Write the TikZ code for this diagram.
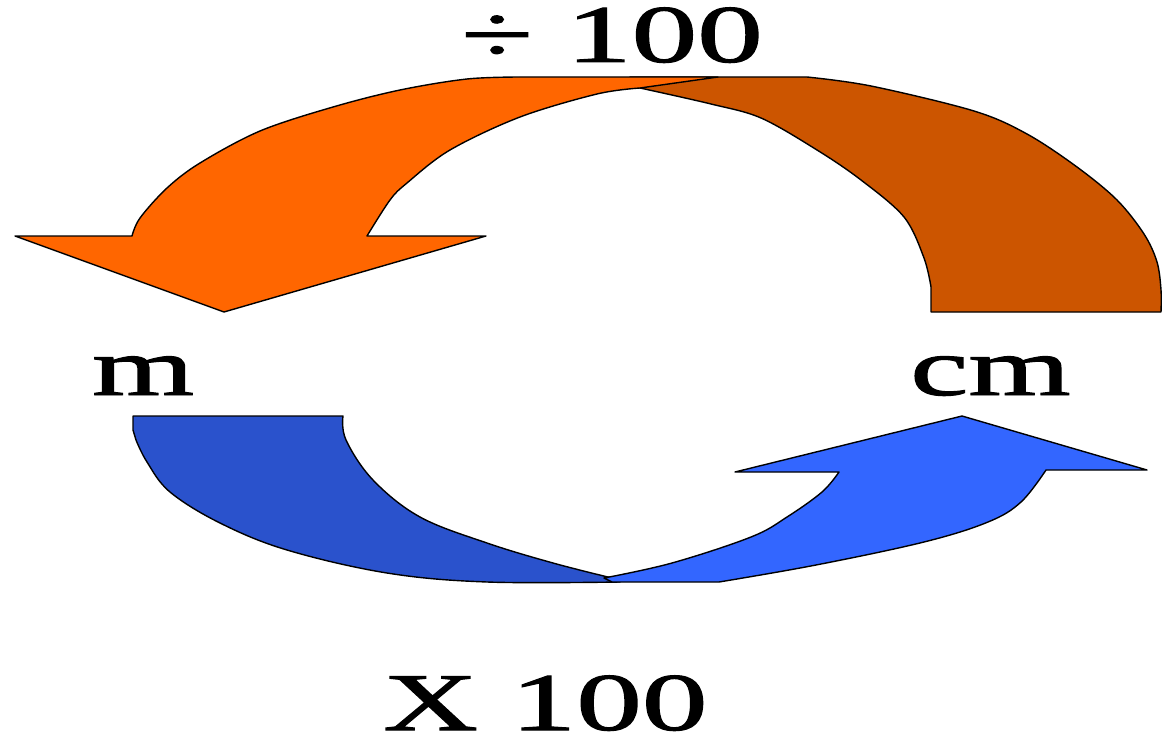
\documentclass[tikz,border=0pt]{standalone}
\usepackage{fontspec}
\setmainfont{Liberation Serif}
\newfontfamily\lblfont[FakeBold=1.2]{Liberation Serif}
\definecolor{orangeA}{HTML}{FF6600}
\definecolor{orangeB}{HTML}{CC5500}
\definecolor{blueA}{HTML}{2A52CC}
\definecolor{blueB}{HTML}{3366FF}
\tikzset{
  arrowshape/.style={draw=black, line width=1.4pt, line join=round},
  lbl/.style={anchor=base west, inner sep=0pt, text depth=0pt, font=\lblfont\fontsize{82}{88}\selectfont}
}
\begin{document}
\begin{tikzpicture}[x=1pt,y=-1pt]
\useasboundingbox (0,0) rectangle (1164,738);
% dark orange (right)
\path[arrowshape, fill=orangeB] (630,77) -- (807,77)
  -- plot[smooth, tension=0.55] coordinates {(807,77) (871,86) (974,111) (1027,134) (1077,167) (1117,200) (1144,234) (1157,262) (1161,290) (1161,312)}
  -- (931,312) -- (931,287)
  -- plot[smooth, tension=0.55] coordinates {(931,287) (924,258) (904,217) (861,180) (817,150) (761,118) (711,104) (640,88)}
  -- cycle;
% orange (left)
\path[arrowshape, fill=orangeA] (718,77) -- (520,77)
  -- plot[smooth, tension=0.55] coordinates {(520,77) (467,79) (400,90) (333,107) (260,131) (200,163) (167,188) (140,218) (132,236)}
  -- (15,236) -- (224,312) -- (486,236) -- (367,236)
  -- plot[smooth, tension=0.55] coordinates {(367,236) (390,200) (407,183) (450,150) (520,117) (597,94) (640,88)}
  -- cycle;
% dark blue (left)
\path[arrowshape, fill=blueA] (133,416) -- (343,416)
  -- plot[smooth, tension=0.6] coordinates {(343,416) (346,440) (373,480) (420,517) (487,543) (553,563) (612,578)}
  -- (620,582)
  -- plot[smooth, tension=0.6] coordinates {(620,582) (487,582) (387,573) (287,550) (220,523) (170,492) (147,462) (136,440)}
  -- (133,430) -- cycle;
% light blue (right)
\path[arrowshape, fill=blueB] (604,578)
  -- plot[smooth, tension=0.6] coordinates {(604,578) (672,563) (751,537) (787,517) (822,492) (839,472)}
  -- (735,472) -- (962,416) -- (1147,470) -- (1046,470)
  -- plot[smooth, tension=0.6] coordinates {(1046,470) (1021,502) (988,522) (924,542) (816,565) (719,582)}
  -- (612,582) -- cycle;
% labels
\node[lbl] (div) at (461,62) {\scalebox{1.6}[1]{÷ 100}};
\node[lbl] (m) at (92,395) {\scalebox{1.6}[1]{m}};
\node[lbl] (cm) at (910,395) {\scalebox{1.6}[1]{cm}};
\node[lbl] (mul) at (383,730) {\scalebox{1.6}[1]{X 100}};
\end{tikzpicture}
\end{document}
